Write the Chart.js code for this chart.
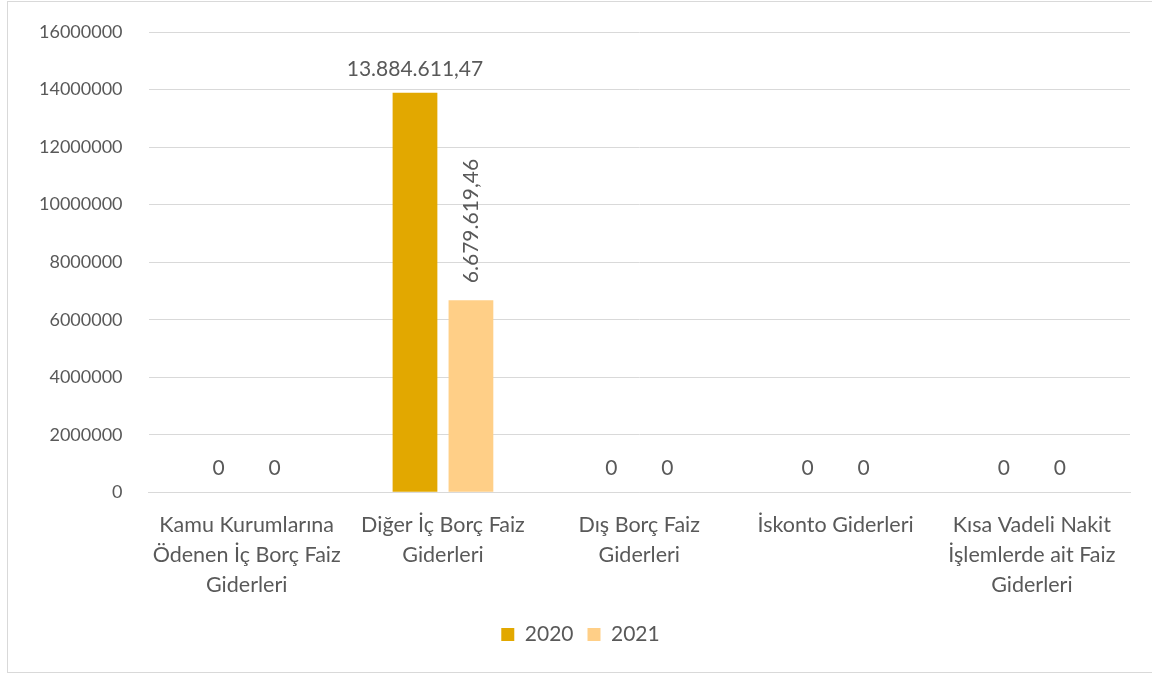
<!DOCTYPE html>
<html>
<head>
<meta charset="utf-8">
<script src="https://cdn.jsdelivr.net/npm/chart.js@4.4.0/dist/chart.umd.min.js"></script>
<style>
  html, body { margin: 0; padding: 0; background: #fff; }
  #wrap { width: 1152px; height: 675px; }
</style>
</head>
<body>
<div id="wrap"><canvas id="faizChart" width="1152" height="675"></canvas></div>
<script>
// kategoriler (satır satır bölünmüş)
const categories = [
  ["Kamu Kurumlarına", "Ödenen İç Borç Faiz", "Giderleri"],
  ["Diğer İç Borç Faiz", "Giderleri"],
  ["Dış Borç Faiz", "Giderleri"],
  ["İskonto Giderleri"],
  ["Kısa Vadeli Nakit", "İşlemlerde ait Faiz", "Giderleri"],
];
const values2020 = [0, 13884611.47, 0, 0, 0];
const values2021 = [0, 6679619.46, 0, 0, 0];
const seriesNames = ["2020", "2021"];
const yMin = 0;
const yMax = 16000000;
const yStep = 2000000;

const textColor = "#595959";
const fontFamily = "Lato, 'Open Sans', sans-serif";

// Türkçe sayı biçimi: 13.884.611,47
function formatTR(v) {
  if (v === 0) return "0";
  const parts = v.toFixed(2).split(".");
  const intPart = parts[0].replace(/\B(?=(\d{3})+(?!\d))/g, ".");
  return intPart + "," + parts[1];
}

// arka plan ve çerçeve
const framePlugin = {
  id: "frame",
  beforeDraw(chart) {
    const c = chart.ctx;
    c.save();
    c.fillStyle = "#fff";
    c.fillRect(0, 0, chart.width, chart.height);
    c.strokeStyle = "#d9d9d9";
    c.lineWidth = 1;
    c.strokeRect(7.5, 1.5, 1150, 671);
    c.restore();
  },
};

// değer etiketleri (2021 değeri dikey yazılıyor)
const labelPlugin = {
  id: "valueLabels",
  afterDatasetsDraw(chart) {
    const c = chart.ctx;
    c.save();
    c.fillStyle = textColor;
    c.font = "21px " + fontFamily;
    chart.data.datasets.forEach((ds, di) => {
      const meta = chart.getDatasetMeta(di);
      meta.data.forEach((bar, i) => {
        const v = ds.data[i];
        const txt = formatTR(v);
        if (di === 1 && v !== 0) {
          c.save();
          c.translate(bar.x, bar.y - 17);
          c.rotate(-Math.PI / 2);
          c.textAlign = "left";
          c.textBaseline = "middle";
          c.fillText(txt, 0, 0);
          c.restore();
        } else {
          c.textAlign = "center";
          c.textBaseline = "alphabetic";
          c.fillText(txt, bar.x, bar.y - 17);
        }
      });
    });
    c.restore();
  },
};

const ctx = document.getElementById("faizChart").getContext("2d");
const chart = new Chart(ctx, {
  type: "bar",
  data: {
    labels: categories,
    datasets: [
      {
        label: seriesNames[0],
        data: values2020,
        backgroundColor: "#E2A800",
      },
      {
        label: seriesNames[1],
        data: values2021,
        backgroundColor: "#FFCF87",
      },
    ],
  },
  options: {
    responsive: false,
    animation: false,
    devicePixelRatio: 1,
    layout: { padding: { left: 31, right: 22, top: 32, bottom: 20 } },
    datasets: {
      bar: { categoryPercentage: 0.57, barPercentage: 0.8 },
    },
    plugins: {
      legend: {
        position: "bottom",
        labels: {
          color: textColor,
          font: { family: fontFamily, size: 21 },
          boxWidth: 13,
          boxHeight: 13,
          padding: 14,
        },
      },
      tooltip: { enabled: false },
    },
    scales: {
      x: {
        grid: { display: false },
        border: { color: "#d9d9d9" },
        ticks: {
          color: textColor,
          font: { family: fontFamily, size: 21.5, lineHeight: 1.39 },
          maxRotation: 0,
          autoSkip: false,
          padding: 10,
        },
      },
      y: {
        min: yMin,
        max: yMax,
        // görünmez tik çizgisi: etiket ile ızgara arasındaki boşluk için
        grid: { color: "#d9d9d9", drawTicks: true, tickLength: 18, tickColor: "rgba(0,0,0,0)" },
        border: { display: false },
        ticks: {
          stepSize: yStep,
          color: textColor,
          font: { family: fontFamily, size: 18 },
          padding: 8,
          callback: (v) => String(v),
        },
      },
    },
  },
  plugins: [framePlugin, labelPlugin],
});
</script>
</body>
</html>
